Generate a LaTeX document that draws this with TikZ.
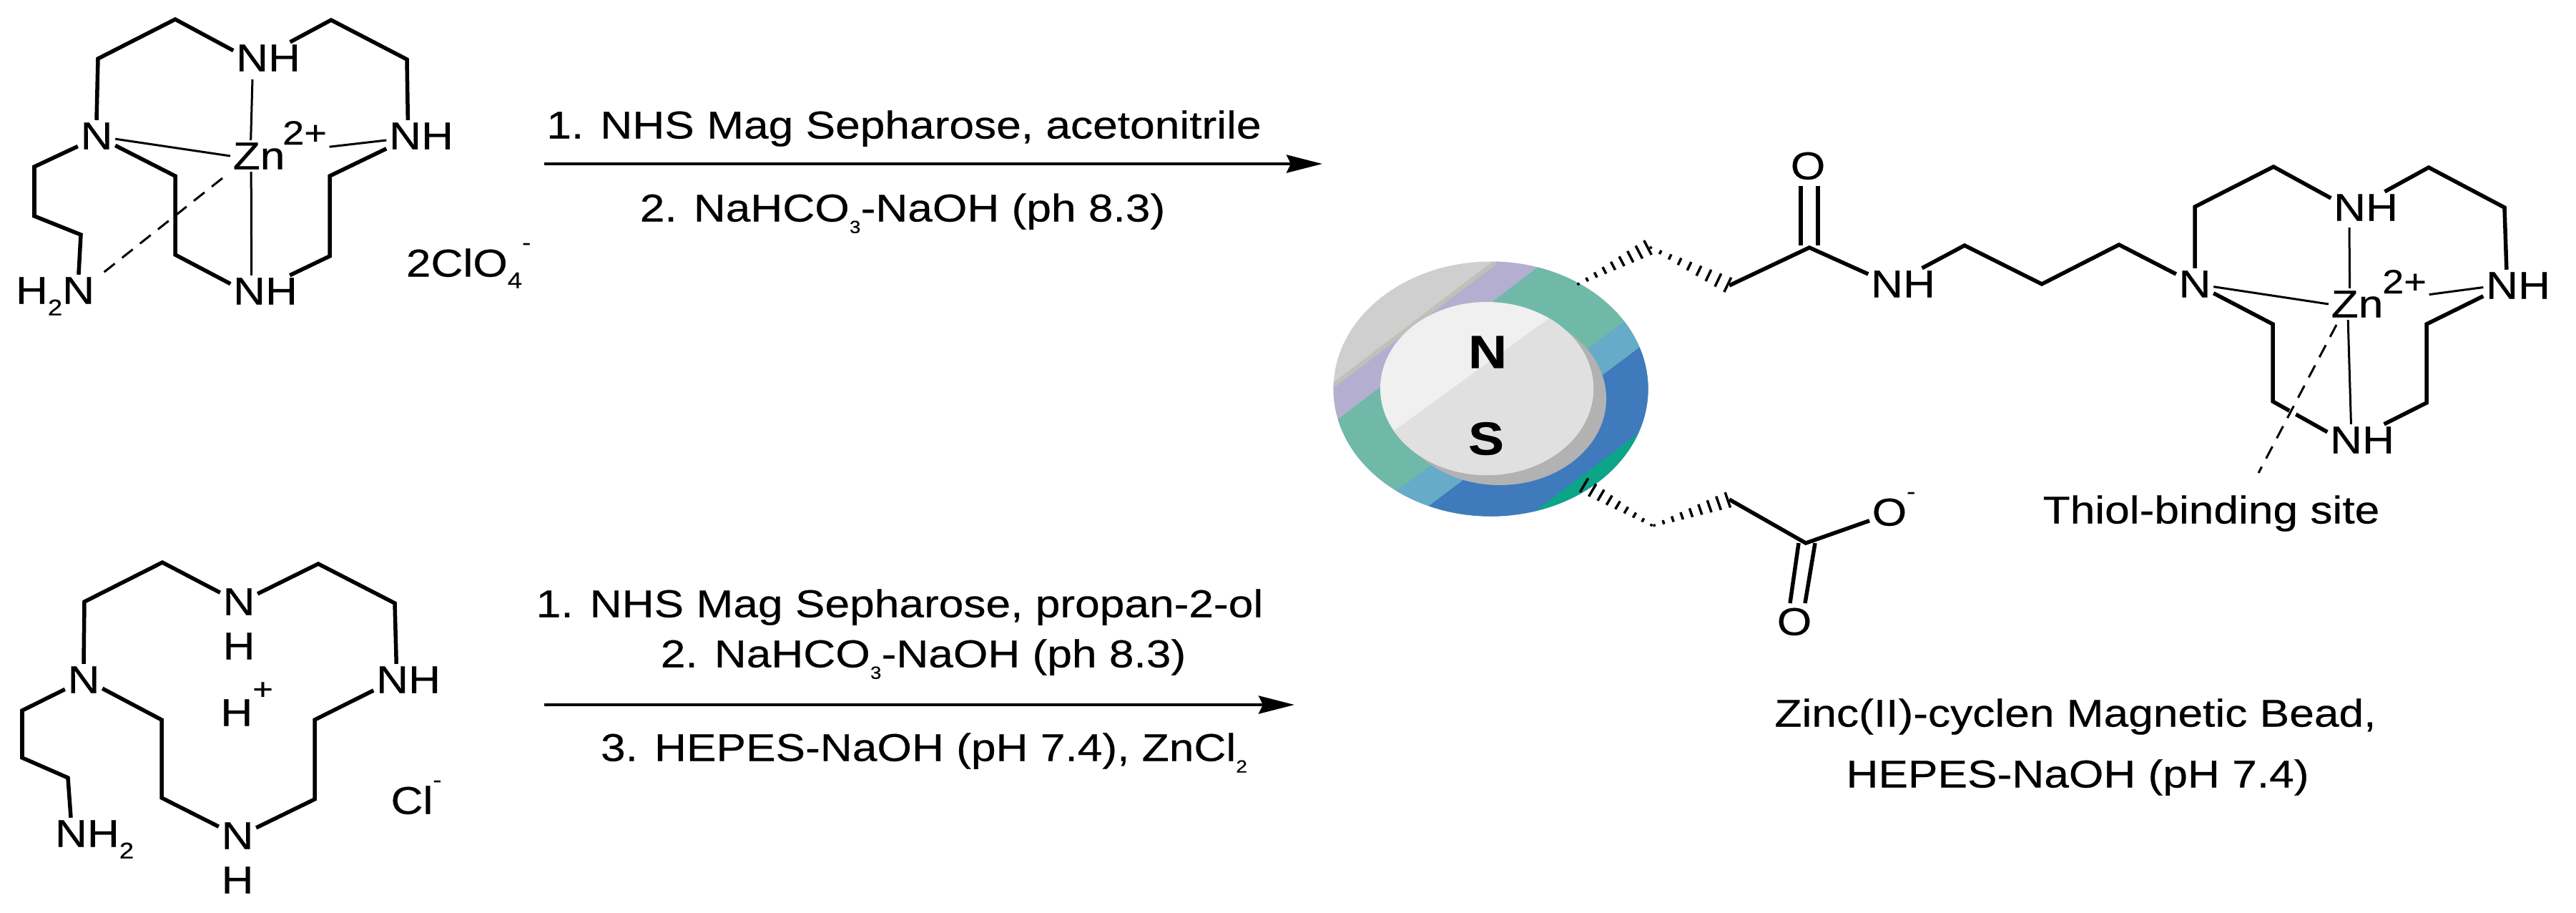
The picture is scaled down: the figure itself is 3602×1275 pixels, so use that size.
\documentclass[tikz,border=0pt]{standalone}
\usepackage{fontspec}
\setmainfont[FakeStretch=1.15,FakeBold=0.4]{Liberation Sans}
\usetikzlibrary{arrows.meta,calc}
\definecolor{beadgray}{HTML}{CFCFCF}
\definecolor{beadedge}{HTML}{C0C0B8}
\definecolor{beadlilac}{HTML}{B4AFD0}
\definecolor{beadteal}{HTML}{70B9A9}
\definecolor{beadsky}{HTML}{66ABC8}
\definecolor{beadblue}{HTML}{3F7ABC}
\definecolor{beadgreen}{HTML}{0BA588}
\newcommand{\sbs}[2][9]{\raisebox{-4.6pt}{\fontsize{#1}{#1}\selectfont #2}}
\newcommand{\sps}[2][9]{\raisebox{10.5pt}{\fontsize{#1}{#1}\selectfont #2}}
% hashed wedge, narrow at the first point
\newcommand{\hashbond}[2]{
    \foreach \t in {.02,.14,...,.98}{
        \pgfmathsetmacro\h{.015+.1*\t}
        \draw[hash] ($(#1)!\t!(#2)!\h cm!90:(#2)$) -- ($(#1)!\t!(#2)!-\h cm!90:(#2)$);
    }
}
\tikzset{atom/.style={font=\fontsize{15.4}{17}\selectfont, inner sep=0.03cm, text height=0.37cm, text depth=0pt},
charge/.style={atom, font=\fontsize{13.4}{15}\selectfont, text height=0.32cm},
pole/.style={font=\fontsize{18.5}{20}\selectfont\bfseries, inner sep=0pt},
bond/.style={line width=0.055cm},
thinbond/.style={line width=0.03cm},
dashbond/.style={line width=0.03cm, dash pattern=on 0.19cm off 0.13cm},
hash/.style={line width=0.035cm},
rxnarrow/.style={line width=0.045cm, -{Stealth[length=0.5cm,width=0.25cm,inset=0.06cm]}}}

\begin{document}
\begin{tikzpicture}[x=0.01cm,y=-0.01cm]
        \useasboundingbox (0,0) rectangle (3602,1275);

        % bead
        \begin{scope}
            \clip (2084.5,543.5) ellipse [x radius=220, y radius=178];
            \fill[beadgray] (1800,300) rectangle (2400,800);
            \foreach \col/\a/\b in {beadlilac/{1865,538}/{2090,367}, beadteal/{1872,585}/{2148,375},
                beadsky/{1957,683}/{2270,450}, beadblue/{1998,707}/{2293,485}, beadgreen/{2148,713}/{2288,608}}{
                \fill[\col] ($(\a)!-1!(\b)$) -- ($(\b)!-1!(\a)$) -- (2700,100) -- (2700,1000) -- (1500,1000) -- cycle;
            }
            \draw[beadedge, line width=0.06cm] (1865,538) -- (2090,367);
        \end{scope}
        \fill[black!30] (2097,557) ellipse [x radius=149, y radius=121];
        \begin{scope}
            \clip (2079,543) ellipse [x radius=149, y radius=121];
            \fill[black!6] (1900,400) rectangle (2250,700);
            \fill[black!12] (1952,600) -- (2163,447) -- (2300,350) -- (2300,700) -- (1850,700) -- cycle;
        \end{scope}
        \node[pole] (north) at (2080,492) {N};
        \node[pole] (south) at (2078,613) {S};

        % zinc complex, top left
        \foreach \nm/\pos in {nha/{375,81}, nhb/{589,190}, nhc/{371,407}}{
            \node[atom] (\nm) at (\pos) {NH};
        }
        \node[atom] (na) at (135,190) {N};
        \node[atom] (zna) at (362,218) {Zn};
        \node[charge] (cha) at (426,186) {2+};
        \node[atom] (amina) at (77,406) {H\sbs{2}N};
        \node[atom] (perchl) at (655,368) {2ClO\sbs{4}\sps{-}};
        \draw[bond] (na.north) -- (137,82) -- (245,27) -- (nha.168);
        \draw[bond] (nha.36) -- (463,28) -- (569,83) -- (nhb.130);
        \draw[bond] (na.209) -- (48,233) -- (48,302) -- (113,328) -- (amina.34);
        \draw[bond] (na.333) -- (245,246) -- (245,356) -- (nhc.168);
        \draw[bond] (nhc.33) -- (461,358) -- (461,246) -- (nhb.200);
        \draw[thinbond] (na.351) -- (zna.west);
        \draw[thinbond] ([shift={(-22,30)}]nha.center) -- (zna.117);
        \draw[thinbond] (zna.244) -- (nhc.131);
        \draw[thinbond] (nhb.187) -- (cha.-29);
        \draw[dashbond] ([shift={(-51,31)}]zna.center) -- (amina.17);

        % macrocycle, bottom left
        \node[atom] (nm) at (334,841) {N};
        \node[atom] (hm) at (334,903) {H};
        \node[atom] (nhr) at (571,950) {NH};
        \node[atom] (nl) at (117,950) {N};
        \node[atom] (nb) at (332,1168) {N};
        \node[atom] (hb) at (332,1230) {H};
        \node[atom] (proton) at (345,996) {H\sps[12]{+}};
        \node[atom] (aminb) at (132,1165) {NH\sbs{2}};
        \node[atom] (chlor) at (582,1119) {Cl\sps{-}};
        \draw[bond] (nl.north) -- (118,841) -- (227,786) -- (nm.154);
        \draw[bond] (nm.23) -- (445,788) -- (552,843) -- (nhr.127);
        \draw[bond] (nl.207) -- (31,993) -- (31,1059) -- (95,1087) -- (aminb.146);
        \draw[bond] (nl.335) -- (226,1006) -- (226,1115) -- (nb.154);
        \draw[bond] (nb.23) -- (440,1117) -- (440,1006) -- (nhr.197);

        % reagents
        \coordinate (arrowa) at (761,229);
        \coordinate (arrowb) at (1849,229);
        \coordinate (arrowc) at (761,985);
        \coordinate (arrowd) at (1810,985);
        \draw[rxnarrow] (arrowa) -- (arrowb);
        \draw[rxnarrow] (arrowc) -- (arrowd);
        \node[atom] (rxna) at (1264,175) {1. NHS Mag Sepharose, acetonitrile};
        \node[atom] (rxnb) at (1262,291) {2. NaHCO\sbs[7]{3}-NaOH (ph 8.3)};
        \node[atom] (rxnc) at (1258,844) {1. NHS Mag Sepharose, propan-2-ol};
        \node[atom] (rxnd) at (1291,914) {2. NaHCO\sbs[7]{3}-NaOH (ph 8.3)};
        \node[atom] (rxne) at (1292,1045) {3. HEPES-NaOH (pH 7.4), ZnCl\sbs[7]{2}};

        % arms of the bead
        \coordinate (hasha) at (2205,398);
        \coordinate (hashb) at (2306,345);
        \coordinate (hashc) at (2418,399);
        \coordinate (hashd) at (2213,677);
        \coordinate (hashe) at (2311,735);
        \coordinate (hashf) at (2418,698);
        \coordinate (amide) at (2530,346);
        \coordinate (carbox) at (2525,759);
        \hashbond{hasha}{hashb}
        \hashbond{hashb}{hashc}
        \hashbond{hashe}{hashd}
        \hashbond{hashe}{hashf}
        \node[atom] (oa) at (2528,232) {O};
        \node[atom] (nhamide) at (2661,397) {NH};
        \node[atom] (ob) at (2648,716) {O\sps{-}};
        \node[atom] (oc) at (2509,869) {O};
        \draw[bond] (hashc) -- (amide) -- (nhamide.164);
        \draw[bond] ([shift={(-10,28)}]oa.center) -- ++(0,83);
        \draw[bond] ([shift={(14,28)}]oa.center) -- ++(0,83);
        \draw[bond] (hashf) -- (carbox) -- (ob.199);
        \draw[bond] (2515,759) -- ([shift={(-6,-26)}]oc.center);
        \draw[bond] (2538,759) -- ([shift={(15,-26)}]oc.center);

        % zinc cyclen on the bead
        \foreach \nm/\pos in {nhd/{3308,290}, nhe/{3521,399}, nhf/{3303,615}}{
            \node[atom] (\nm) at (\pos) {NH};
        }
        \node[atom] (nd) at (3069,397) {N};
        \node[atom] (znd) at (3296,425) {Zn};
        \node[charge] (chd) at (3362,394) {2+};
        \node[atom] (thiol) at (3092,713) {Thiol-binding site};
        \draw[bond] (nhamide.40) -- (2747,343) -- (2855,397) -- (2963,342) -- (nd.152);
        \draw[bond] (nd.north) -- (3069,289) -- (3179,233) -- (nhd.165);
        \draw[bond] (nhd.40) -- (3396,234) -- (3502,290) -- (nhe.126);
        \draw[bond] (nd.334) -- (3178,453) -- (3178,561) -- (nhf.167);
        \draw[bond] (nhf.36) -- (3393,563) -- (3393,453) -- (nhe.197);
        \draw[thinbond] (nd.352) -- (znd.west);
        \draw[thinbond] ([shift={(-23,28)}]nhd.center) -- (znd.115);
        \draw[thinbond] (znd.240) -- (nhf.125);
        \draw[thinbond] (nhe.183) -- (chd.333);
        \draw[white, line width=0.1cm] (3214,560) -- (3198,592);
        \draw[dashbond] ([shift={(-29,29)}]znd.center) -- ([shift={(66,-52)}]thiol.center);

        % caption
        \node[atom] (capa) at (2902,997) {Zinc(II)-cyclen Magnetic Bead,};
        \node[atom] (capb) at (2905,1082) {HEPES-NaOH (pH 7.4)};

    \end{tikzpicture}
\end{document}
